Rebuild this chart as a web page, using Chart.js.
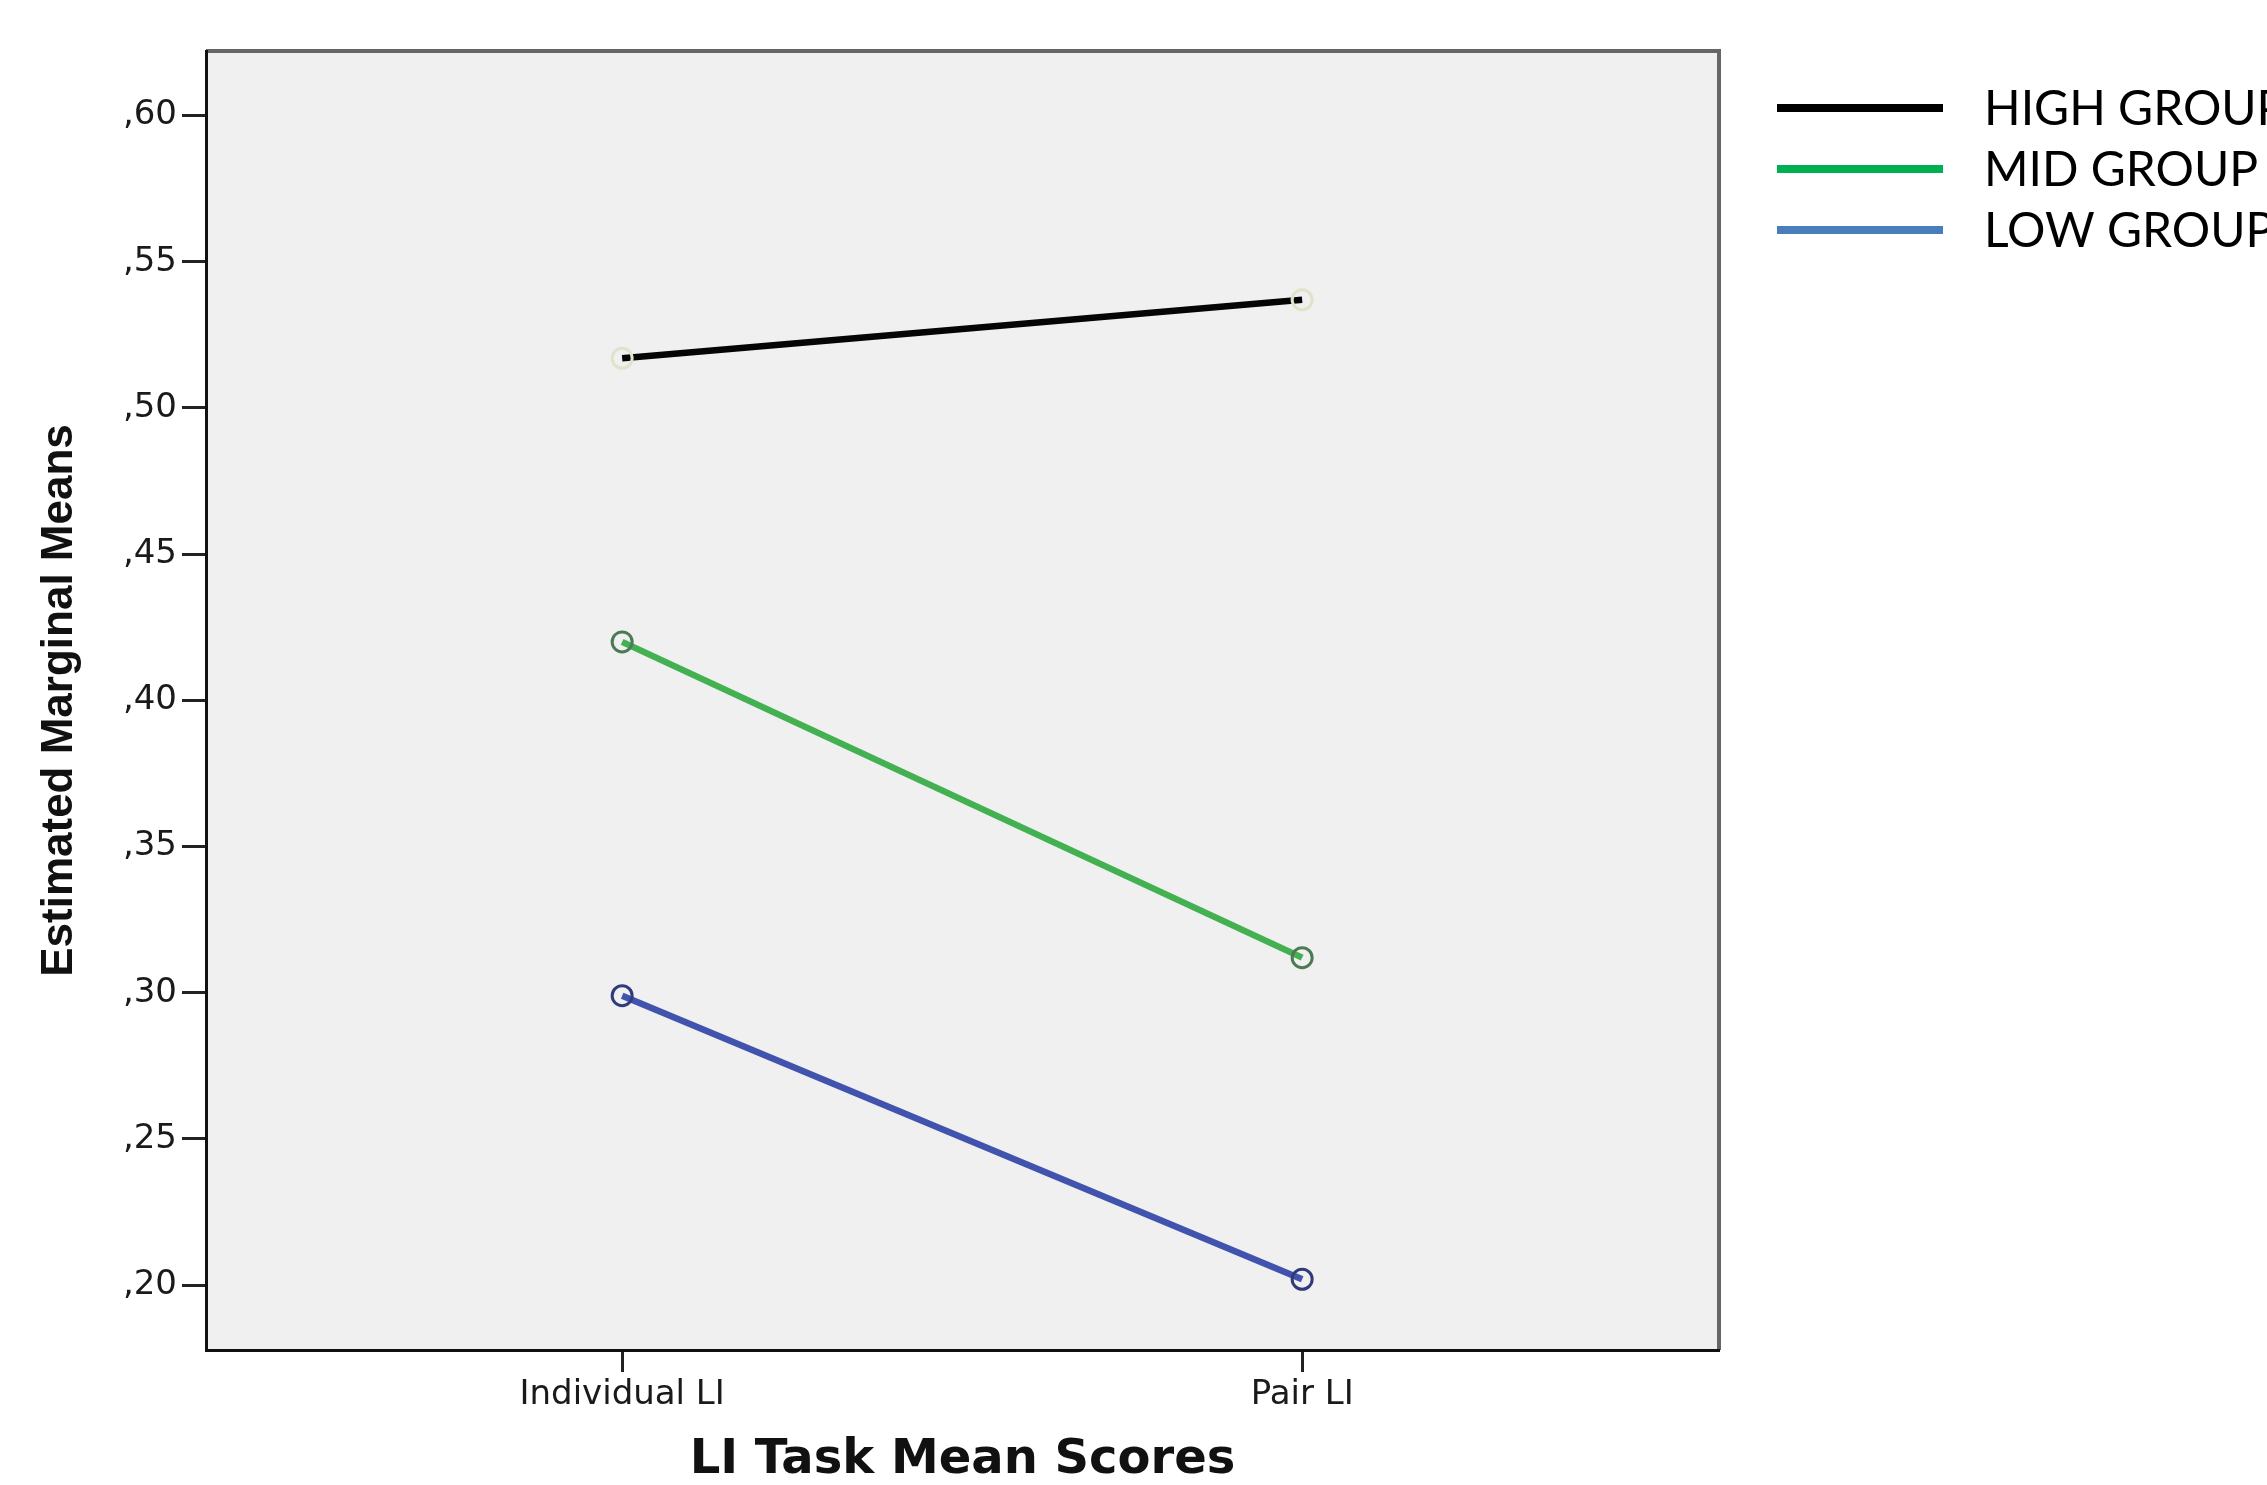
<!doctype html>
<html>
<head>
	<meta charset="utf-8" />
	<title>LI Task Mean Scores</title>
	<script src="https://cdn.jsdelivr.net/npm/chart.js@4.4.1/dist/chart.umd.min.js"></script>
	<style>
		body { margin: 0; background: #fff; }
		canvas { display: block; }
	</style>
</head>
<body>
	<canvas id="canvas" width="2267" height="1485"></canvas>
	<script>
		// categories and values
		const categories = ['Individual LI', 'Pair LI'];
		const groupNames = ['HIGH GROUP', 'MID GROUP', 'LOW GROUP'];
		const highValues = [0.517, 0.537];
		const midValues = [0.420, 0.312];
		const lowValues = [0.299, 0.202];
		const yTicks = [0.20, 0.25, 0.30, 0.35, 0.40, 0.45, 0.50, 0.55, 0.60];
		const yTickLabels = [',20', ',25', ',30', ',35', ',40', ',45', ',50', ',55', ',60'];

		const lineColors = ['#050505', '#43b152', '#4253ad'];
		const ringColors = ['#e2e2cc', '#4d7a55', '#2f3c7c'];
		const legendColors = ['#000000', '#00b050', '#4a7ebb'];

		function toPoints(values) {
			return values.map(function (v, i) { return { x: i + 1, y: v }; });
		}

		// grey plot area and the lighter top/right frame
		const plotFrame = {
			id: 'plotFrame',
			beforeDraw(chart) {
				const ctx = chart.ctx, a = chart.chartArea;
				ctx.save();
				ctx.fillStyle = '#ffffff';
				ctx.fillRect(0, 0, chart.width, chart.height);
				ctx.fillStyle = '#f0f0f0';
				ctx.fillRect(a.left, a.top, a.right - a.left, a.bottom - a.top);
				ctx.strokeStyle = '#666666';
				ctx.lineWidth = 4;
				ctx.beginPath();
				ctx.moveTo(a.left, a.top);
				ctx.lineTo(a.right, a.top);
				ctx.lineTo(a.right, a.bottom);
				ctx.stroke();
				ctx.restore();
			}
		};

		// legend to the right of the frame
		const sideLegend = {
			id: 'sideLegend',
			afterDraw(chart) {
				const ctx = chart.ctx;
				const rows = [108, 169, 230];
				ctx.save();
				ctx.font = '48px Lato';
				ctx.textBaseline = 'middle';
				ctx.textAlign = 'left';
				groupNames.forEach(function (name, i) {
					ctx.strokeStyle = legendColors[i];
					ctx.lineWidth = 8;
					ctx.beginPath();
					ctx.moveTo(1777, rows[i]);
					ctx.lineTo(1943, rows[i]);
					ctx.stroke();
					ctx.fillStyle = '#000';
					ctx.fillText(name, 1984, rows[i] + 2);
				});
				ctx.restore();
			}
		};

		const seriesValues = [highValues, midValues, lowValues];
		const datasets = groupNames.map(function (name, i) {
			return {
				label: name,
				data: toPoints(seriesValues[i]),
				borderColor: lineColors[i],
				borderWidth: 6.5,
				pointRadius: 10,
				pointHoverRadius: 10,
				pointBorderWidth: 3,
				pointBorderColor: ringColors[i],
				pointBackgroundColor: 'rgba(0,0,0,0)',
				tension: 0,
				clip: false
			};
		});

		Chart.defaults.color = '#1a1a1a';

		new Chart(document.getElementById('canvas'), {
			type: 'line',
			data: { datasets: datasets },
			options: {
				responsive: false,
				animation: false,
				devicePixelRatio: 1,
				layout: { padding: { top: 51, right: 548, left: 0, bottom: 0 } },
				plugins: {
					legend: { display: false },
					tooltip: { enabled: false }
				},
				scales: {
					x: {
						type: 'linear',
						min: 0.388,
						max: 2.613,
						afterFit: function (s) { s.height = 135; },
						afterBuildTicks: function (s) {
							s.ticks = categories.map(function (c, i) { return { value: i + 1 }; });
						},
						ticks: {
							padding: 3,
							font: { family: 'DejaVu Sans', size: 34 },
							callback: function (v) { return categories[v - 1]; }
						},
						grid: {
							drawOnChartArea: false,
							drawTicks: true,
							tickLength: 22,
							tickWidth: 3,
							tickColor: '#222'
						},
						border: { color: '#111', width: 3 },
						title: {
							display: true,
							text: 'LI Task Mean Scores',
							color: '#111',
							font: { family: 'DejaVu Sans', weight: 'bold', size: 48, lineHeight: 1 },
							padding: { top: 0, bottom: 0 }
						}
					},
					y: {
						min: 0.1778,
						max: 0.6221,
						afterFit: function (s) { s.width = 206; },
						afterBuildTicks: function (s) {
							s.ticks = yTicks.map(function (v) { return { value: v }; });
						},
						ticks: {
							padding: 5,
							font: { family: 'DejaVu Sans', size: 34 },
							callback: function (v, i) { return yTickLabels[i]; }
						},
						grid: {
							drawOnChartArea: false,
							drawTicks: true,
							tickLength: 24,
							tickWidth: 3,
							tickColor: '#222'
						},
						border: { color: '#111', width: 3 },
						title: {
							display: true,
							text: 'Estimated Marginal Means',
							color: '#111',
							font: { family: 'Liberation Sans', weight: 'bold', size: 44, lineHeight: 1.2 },
							padding: { top: 33, bottom: 0 }
						}
					}
				}
			},
			plugins: [plotFrame, sideLegend]
		});
	</script>
</body>
</html>
